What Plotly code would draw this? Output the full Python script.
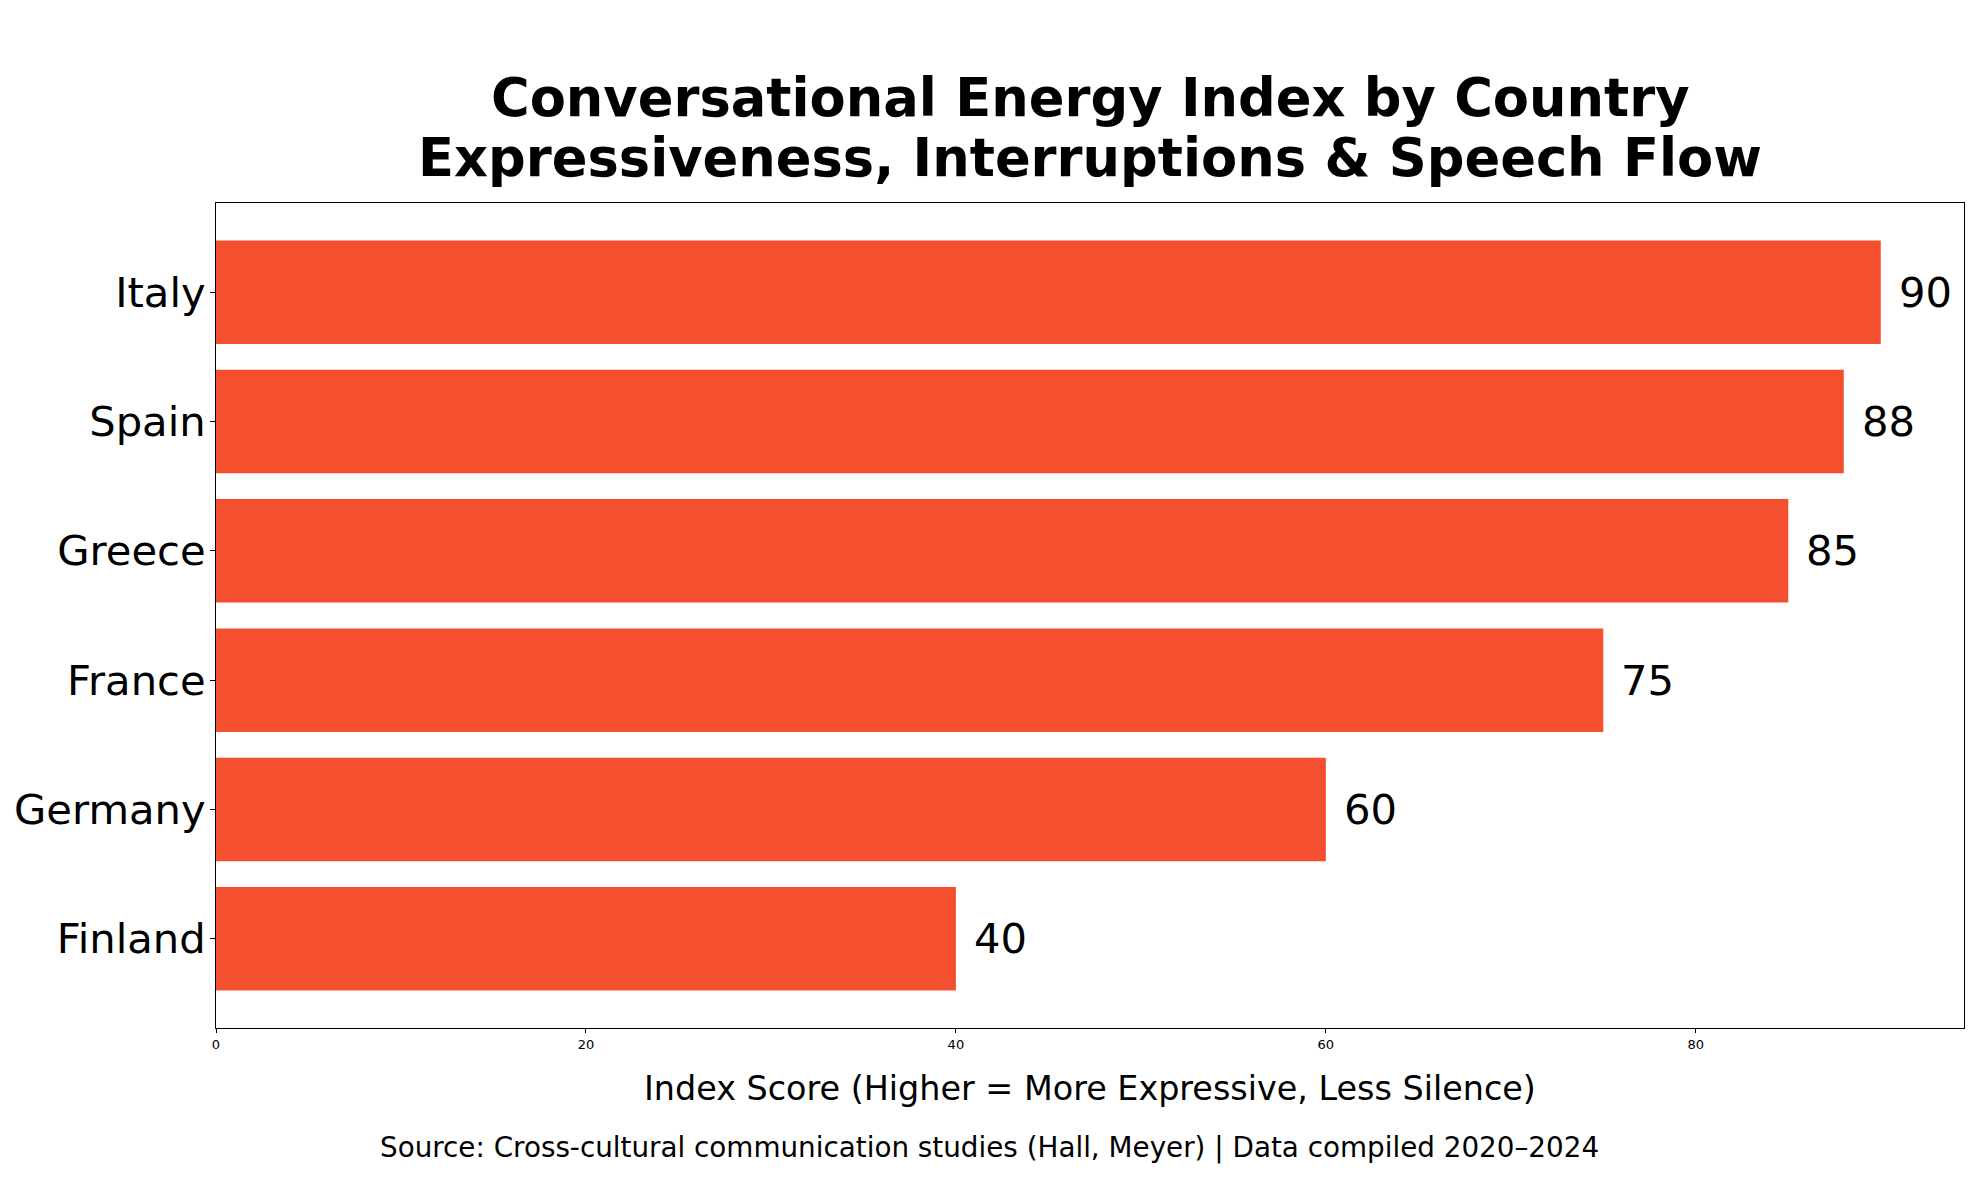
import plotly.graph_objects as go

countries = ["Italy", "Spain", "Greece", "France", "Germany", "Finland"]
scores = [90, 88, 85, 75, 60, 40]
x_ticks = [0, 20, 40, 60, 80]

title_line1 = "Conversational Energy Index by Country"
title_line2 = "Expressiveness, Interruptions & Speech Flow"
x_title = "Index Score (Higher = More Expressive, Less Silence)"
source_text = "Source: Cross-cultural communication studies (Hall, Meyer) | Data compiled 2020\u20132024"

BAR_COLOR = "#F4502F"
FONT = "DejaVu Sans"

W, H = 1979, 1180
OFF = 8  # page body margin offset
# plot area in screen pixels
S_LEFT, S_RIGHT, S_TOP, S_BOTTOM = 216, 1964, 203, 1028
ml = S_LEFT - OFF
mt = S_TOP - OFF
mr = W - (S_RIGHT - OFF)
mb = H - (S_BOTTOM - OFF)
plot_w = S_RIGHT - S_LEFT
plot_h = S_BOTTOM - S_TOP


def py(px):
    return (S_BOTTOM - px) / plot_h


def px_x(px):
    return (px - S_LEFT) / plot_w


fig = go.Figure()
fig.add_trace(go.Bar(
    x=scores,
    y=countries,
    orientation="h",
    marker=dict(color=BAR_COLOR, line=dict(width=0)),
    hoverinfo="skip",
))

n = len(countries)
pad = 0.05 * (n - 1 + 0.8)
max_x = max(scores) * 1.05

for c, v in zip(countries, scores):
    fig.add_annotation(
        x=v, y=c, xref="x", yref="y",
        text=str(v), showarrow=False,
        xanchor="left", yanchor="middle", xshift=16,
        font=dict(family=FONT, size=41.7, color="black"),
    )

fig.add_annotation(
    x=0.5, y=py(97), xref="paper", yref="paper",
    text=f"<b>{title_line1}</b>", showarrow=False,
    xanchor="center", yanchor="middle",
    font=dict(family=FONT, size=52.7, color="black"),
)
fig.add_annotation(
    x=0.5, y=py(157), xref="paper", yref="paper",
    text=f"<b>{title_line2}</b>", showarrow=False,
    xanchor="center", yanchor="middle",
    font=dict(family=FONT, size=52.7, color="black"),
)
fig.add_annotation(
    x=0.5, y=py(1088), xref="paper", yref="paper",
    text=x_title, showarrow=False,
    xanchor="center", yanchor="middle",
    font=dict(family=FONT, size=33.4, color="black"),
)
fig.add_annotation(
    x=px_x(W / 2), y=py(1147), xref="paper", yref="paper",
    text=source_text, showarrow=False,
    xanchor="center", yanchor="middle",
    font=dict(family=FONT, size=27.8, color="black"),
)

fig.update_layout(
    width=W, height=H,
    margin=dict(l=ml, r=mr, t=mt, b=mb, pad=0, autoexpand=False),
    paper_bgcolor="white", plot_bgcolor="white",
    showlegend=False,
    bargap=0.2,
    font=dict(family=FONT, color="black"),
)
fig.update_xaxes(
    range=[0, max_x],
    automargin=False,
    tickvals=x_ticks, ticktext=[str(t) for t in x_ticks],
    tickfont=dict(family=FONT, size=13, color="black"),
    ticks="outside", ticklen=4, tickcolor="black", tickwidth=1,
    showgrid=False, zeroline=False,
    showline=True, linecolor="black", linewidth=1, mirror=True,
)
fig.update_yaxes(
    range=[n - 1 + 0.4 + pad, -0.4 - pad],
    type="category",
    automargin=False,
    tickfont=dict(family=FONT, size=41.7, color="black"),
    ticks="outside", ticklen=5, tickcolor="black", tickwidth=1,
    ticklabelstandoff=-4,
    showgrid=False, zeroline=False,
    showline=True, linecolor="black", linewidth=1, mirror=True,
)

fig.write_html("out.html")
